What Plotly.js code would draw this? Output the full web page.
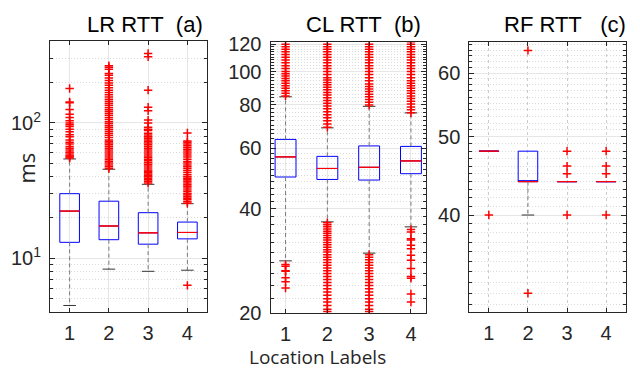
<!DOCTYPE html>
<html>
<head>
<meta charset="utf-8">
<script src="https://cdn.plot.ly/plotly-3.0.1.min.js"></script>
<style>html,body{margin:0;padding:0;background:#fff;}#chart{width:640px;height:370px;}</style>
</head>
<body>
<div id="chart"></div>
<script>
// ---------- data ----------
const categories = [1, 2, 3, 4];
const tickLabels = ['1', '2', '3', '4'];

// (a) LR RTT
const lrQ1 = [13.1, 13.7, 12.7, 13.9];
const lrMedian = [22.3, 17.3, 15.4, 15.5];
const lrQ3 = [30.0, 26.4, 21.7, 18.5];
const lrLowerFence = [4.47, 8.3, 8.0, 8.15];
const lrUpperFence = [54.2, 45.5, 35.2, 25.3];
const lrOutliers1 = [180, 143, 141, 126, 116, 110, 104, 100, 97, 94, 90, 86, 82, 79, 75, 72, 70, 67, 65, 63, 61, 60, 58, 57, 56, 55];
const lrOutliers2 = [265, 258, 250, 232, 225, 215, 206, 198, 190, 182, 175, 168, 162, 156, 150, 145, 140, 135, 130, 126, 122, 118, 114, 110, 106, 102, 99, 96, 93, 90, 87, 84, 81, 78, 75, 73, 71, 69, 67, 65, 63, 61, 59, 57, 55, 53.5, 52, 50.5, 49, 47.5, 46];
const lrOutliers3 = [327, 309, 175, 131, 123, 105, 100, 93, 90, 88, 84, 81.5, 79, 77, 75, 73, 71, 69, 67, 65, 63, 61, 59, 57, 55.5, 54, 52.5, 51, 49.5, 48, 46.5, 45, 44, 43, 42, 41, 40, 39, 38, 37, 36];
const lrOutliers4 = [84.5, 73.6, 72, 70, 68, 66, 64, 62, 60, 58, 56, 54, 52, 50.5, 49, 47.5, 46, 44.5, 43, 41.5, 40, 39, 38, 37, 36, 35, 34, 33, 32, 31, 30, 29.3, 28.5, 27.7, 27, 26.2, 25.5, 6.3];

// (b) CL RTT
const clQ1 = [49.5, 48.7, 48.5, 50.6];
const clMedian = [56.6, 52.4, 52.8, 55.1];
const clQ3 = [63.6, 56.8, 60.9, 60.7];
const clLowerFence = [28.3, 36.7, 29.8, 35.5];
const clUpperFence = [84.5, 68.7, 79.3, 75.9];
const clOutliers1 = [85, 86.5, 88, 89.5, 91, 92.5, 94, 95.5, 97, 98.5, 100, 102, 104, 106, 108, 110, 112, 114, 116, 118, 120,
  27.6, 27.3, 26.5, 26.4, 25.3, 24.6, 23.6];
const clOutliers2 = [69, 70.5, 72, 73.5, 75, 76.5, 78, 79.5, 81, 82.5, 84, 85.5, 87, 88.5, 90, 91.5, 93, 94.5, 96, 98, 100, 102, 104, 106, 108, 110, 112, 114, 116, 118, 120,
  36.5, 36, 35.5, 35, 34.5, 34, 33.5, 33, 32.5, 32, 31.5, 31, 30.5, 30, 29.5, 29, 28.5, 28, 27.5, 27, 26.5, 26, 25.5, 25, 24.5, 24, 23.5, 23, 22.5, 22, 21.5, 21, 20.5, 20.2];
const clOutliers3 = [80, 81.5, 83, 84.5, 86, 87.5, 89, 90.5, 92, 94, 96, 98, 100, 102, 104, 106, 108, 110, 112, 114, 116, 118, 120,
  29.5, 29, 28.5, 28, 27.5, 27, 26.5, 26, 25.5, 25, 24.5, 24, 23.5, 23, 22.5, 22, 21.5, 21, 20.5, 20.2];
const clOutliers4 = [76, 77.5, 79, 80.5, 82, 83.5, 85, 86.5, 88, 89.5, 91, 92.5, 94, 96, 98, 100, 102, 104, 106, 108, 110, 112, 114, 116, 118, 120, 122,
  34.9, 34.3, 32.8, 32.5, 31.4, 30.7, 29.4, 28.4, 26.9, 25.5, 25.2, 22.7, 21.5];

// (c) RF RTT
const rfQ1 = [48, 44, 44, 44];
const rfMedian = [48, 44, 44, 44];
const rfQ3 = [48, 48, 44, 44];
const rfLowerFence = [48, 40, 44, 44];
const rfUpperFence = [48, 48, 44, 44];
const rfOutliers1 = [40];
const rfOutliers2 = [64, 32];
const rfOutliers3 = [48, 46, 45, 40];
const rfOutliers4 = [48, 46, 45, 40];

// ---------- builders ----------
function panelTraces(xa, ya, q1, med, q3, lf, uf, outs) {
  const t = [];
  const wx = [], wy = [];
  categories.forEach((c, i) => {
    if (uf[i] > q3[i]) { wx.push(c, c, null); wy.push(q3[i], uf[i], null); }
    if (lf[i] < q1[i]) { wx.push(c, c, null); wy.push(q1[i], lf[i], null); }
  });
  t.push({type: 'scatter', mode: 'lines', x: wx, y: wy, xaxis: xa, yaxis: ya,
    line: {color: '#7a7a7a', width: 1, dash: '4px,3px'}, hoverinfo: 'skip', showlegend: false});
  const cx = [], cy = [];
  categories.forEach((c, i) => {
    if (uf[i] > q3[i]) { cx.push(c); cy.push(uf[i]); }
    if (lf[i] < q1[i]) { cx.push(c); cy.push(lf[i]); }
  });
  t.push({type: 'scatter', mode: 'markers', x: cx, y: cy, xaxis: xa, yaxis: ya,
    marker: {symbol: 'line-ew', size: 9, line: {color: '#333333', width: 1}}, hoverinfo: 'skip', showlegend: false});
  t.push({type: 'box', x: categories, q1: q1, median: med, q3: q3, lowerfence: q1, upperfence: q3,
    width: 0.5, whiskerwidth: 0, boxpoints: false, xaxis: xa, yaxis: ya,
    line: {color: '#0000ff', width: 1}, fillcolor: 'rgba(0,0,0,0)', hoverinfo: 'skip', showlegend: false});
  t.push({type: 'box', x: categories, q1: med, median: med, q3: med, lowerfence: med, upperfence: med,
    width: 0.5, whiskerwidth: 0, boxpoints: false, xaxis: xa, yaxis: ya,
    line: {color: '#ff0000', width: 0.8}, fillcolor: 'rgba(0,0,0,0)', hoverinfo: 'skip', showlegend: false});
  const ox = [], oy = [];
  outs.forEach((arr, i) => arr.forEach(v => { ox.push(categories[i]); oy.push(v); }));
  t.push({type: 'scatter', mode: 'markers', x: ox, y: oy, xaxis: xa, yaxis: ya,
    marker: {symbol: 'cross-thin', size: 6, color: '#ff0000', line: {color: '#ff0000', width: 1.5}},
    hoverinfo: 'skip', showlegend: false});
  return t;
}

const traces = [].concat(
  panelTraces('x', 'y', lrQ1, lrMedian, lrQ3, lrLowerFence, lrUpperFence, [lrOutliers1, lrOutliers2, lrOutliers3, lrOutliers4]),
  panelTraces('x2', 'y2', clQ1, clMedian, clQ3, clLowerFence, clUpperFence, [clOutliers1, clOutliers2, clOutliers3, clOutliers4]),
  panelTraces('x3', 'y3', rfQ1, rfMedian, rfQ3, rfLowerFence, rfUpperFence, [rfOutliers1, rfOutliers2, rfOutliers3, rfOutliers4])
);

// ---------- layout ----------
const W = 640, H = 370;
const tickFont = {family: 'Liberation Sans, Arial, sans-serif', size: 20, color: '#262626'};
const majorGrid = '#e6e6e6';
const minorGrid = '#dadada';

function xAxis(left, right, range, anchor, gridDash) {
  return {domain: [left / W, right / W], range: range, anchor: anchor,
    tickmode: 'array', tickvals: categories, ticktext: tickLabels,
    showline: true, linecolor: '#262626', linewidth: 1, mirror: 'ticks',
    ticks: 'inside', ticklen: 4, tickcolor: '#262626',
    showgrid: true, gridcolor: gridDash === 'solid' ? majorGrid : '#cccccc', griddash: gridDash, gridwidth: 1,
    zeroline: false, tickfont: tickFont, ticklabelstandoff: 3, fixedrange: true};
}
function yAxis(top, bottom, range, anchor, tv, tt, minorVals) {
  return {type: 'log', domain: [1 - bottom / H, 1 - top / H], range: range, anchor: anchor,
    tickmode: 'array', tickvals: tv, ticktext: tt,
    showline: true, linecolor: '#262626', linewidth: 1, mirror: 'ticks',
    ticks: 'inside', ticklen: 5, tickcolor: '#262626',
    showgrid: true, gridcolor: majorGrid, gridwidth: 1,
    minor: {tickmode: 'array', tickvals: minorVals, ticks: 'inside', ticklen: 3, tickcolor: '#262626',
      showgrid: true, gridcolor: minorGrid, griddash: '1px,2px', gridwidth: 1},
    zeroline: false, tickfont: tickFont, ticklabelstandoff: 4, fixedrange: true};
}

const minorA = [], minorB = [], minorC = [];
[1, 10, 100].forEach(d => { for (let k = 2; k <= 9; k++) minorA.push(k * d); });
for (let v = 20; v <= 124; v += 2) if (v % 20 !== 0) minorB.push(v);
for (let v = 30; v <= 66; v += 1) if (v % 10 !== 0) minorC.push(v);

const layout = {
  width: W, height: H,
  margin: {l: 0, r: 0, t: 0, b: 0},
  paper_bgcolor: '#ffffff', plot_bgcolor: '#ffffff',
  showlegend: false, boxmode: 'overlay',
  xaxis: xAxis(50, 207, [0.5, 4.5], 'y', 'solid'),
  yaxis: yAxis(41, 312, [Math.log10(4), Math.log10(404)], 'x', [10, 100], ['10<sup>1</sup>', '10<sup>2</sup>'], minorA),
  xaxis2: xAxis(270.5, 426, [0.64, 4.36], 'y2', 'solid'),
  yaxis2: yAxis(41.7, 313.3, [Math.log10(19.95), Math.log10(122)], 'x2', [20, 40, 60, 80, 100, 120], ['20', '40', '60', '80', '100', '120'], minorB),
  xaxis3: xAxis(469.3, 625.7, [0.5, 4.5], 'y3', 'dot'),
  yaxis3: yAxis(42.3, 312.3, [Math.log10(30.3), Math.log10(65.5)], 'x3', [40, 50, 60], ['40', '50', '60'], minorC),
  annotations: [
    {text: 'LR RTT\u00a0\u00a0(a)', xref: 'paper', yref: 'paper', x: 205 / W, y: 1 - 24 / H, xanchor: 'right', yanchor: 'middle',
      showarrow: false, font: {family: 'Liberation Sans, Arial, sans-serif', size: 22, color: '#000000'}},
    {text: 'CL RTT\u00a0\u00a0(b)', xref: 'paper', yref: 'paper', x: 423 / W, y: 1 - 24 / H, xanchor: 'right', yanchor: 'middle',
      showarrow: false, font: {family: 'Liberation Sans, Arial, sans-serif', size: 22, color: '#000000'}},
    {text: 'RF RTT\u00a0\u00a0\u00a0(c)', xref: 'paper', yref: 'paper', x: 628 / W, y: 1 - 24 / H, xanchor: 'right', yanchor: 'middle',
      showarrow: false, font: {family: 'Liberation Sans, Arial, sans-serif', size: 22, color: '#000000'}},
    {text: 'Location Labels', xref: 'paper', yref: 'paper', x: 317.5 / W, y: 1 - 357 / H, xanchor: 'center', yanchor: 'middle',
      showarrow: false, borderpad: 0, font: {family: 'Open Sans, sans-serif', size: 19, color: '#262626'}},
    {text: 'ms', xref: 'paper', yref: 'paper', x: 25 / W, y: 1 - 168.5 / H, xanchor: 'center', yanchor: 'middle', textangle: -90,
      showarrow: false, font: {family: 'Open Sans, sans-serif', size: 22, color: '#262626'}}
  ]
};

Plotly.newPlot('chart', traces, layout, {staticPlot: true, displayModeBar: false});
</script>
</body>
</html>
